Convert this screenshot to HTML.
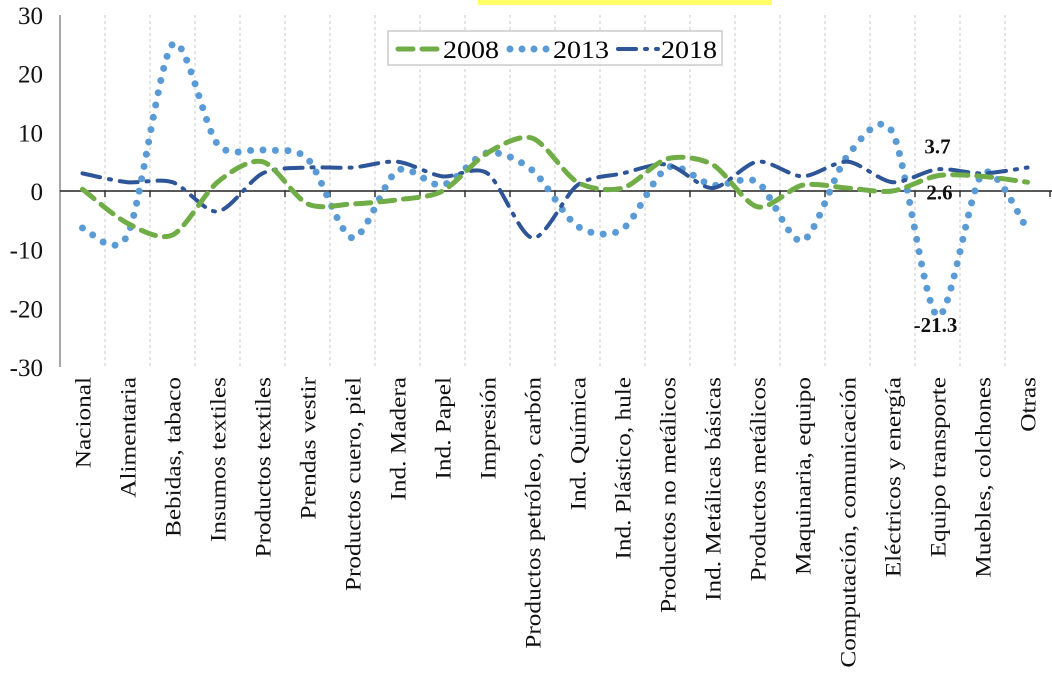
<!DOCTYPE html>
<html><head><meta charset="utf-8"><style>
body{margin:0;background:#fff;}
svg{display:block;font-family:"Liberation Serif",serif;}
</style></head><body>
<svg id="chart" width="1052" height="677" viewBox="0 0 1052 677" xmlns="http://www.w3.org/2000/svg">
<rect x="478" y="0" width="294" height="5" fill="#ffff66"/>
<g id="grid"></g><g id="axes"></g><g id="series"></g><g id="labels"></g>
<g>
<rect x="388" y="31" width="334" height="34" fill="#fff" stroke="#ccc" stroke-width="1.5"/>
<line x1="398" y1="49" x2="440" y2="49" stroke="#70ad47" stroke-width="5" stroke-dasharray="15 9" stroke-linecap="round"/>
<text x="443" y="58" font-size="25" textLength="56" lengthAdjust="spacingAndGlyphs">2008</text>
<line x1="510" y1="49" x2="550" y2="49" stroke="#5b9bd5" stroke-width="7" stroke-dasharray="0 12" stroke-linecap="round"/>
<text x="553" y="58" font-size="25" textLength="56" lengthAdjust="spacingAndGlyphs">2013</text>
<line x1="618" y1="49" x2="658" y2="49" stroke="#2d5597" stroke-width="4" stroke-dasharray="18 9 2 9" stroke-linecap="round"/>
<text x="661" y="58" font-size="25" textLength="56" lengthAdjust="spacingAndGlyphs">2018</text>
</g>
</svg>
<script>
const categories=["Nacional","Alimentaria","Bebidas, tabaco","Insumos textiles","Productos textiles","Prendas vestir","Productos cuero, piel","Ind. Madera","Ind. Papel","Impresión","Productos petróleo, carbón","Ind. Química","Ind. Plástico, hule","Productos no metálicos","Ind. Metálicas básicas","Productos metálicos","Maquinaria, equipo","Computación, comunicación","Eléctricos y energía","Equipo transporte","Muebles, colchones","Otras"];
const s2008=[0.3,-5.5,-7.5,1.5,5,-2.2,-2.2,-1.5,0,6.5,9,1.5,0.5,5.5,4.5,-2.7,1,0.5,0,2.6,2.5,1.5];
const s2013=[-6.3,-7.5,25,8,7,5.5,-8,3.5,1,6.5,3.5,-6,-6.5,4,1,1.5,-8.5,6,10,-21.3,3,-6.5];
const s2018=[3,1.5,1.5,-3.5,3,4,4,5,2.5,3,-8,1,3,4.5,0.5,5,2.5,5,1.5,3.7,3,4];
const yTicks=[30,20,10,0,-10,-20,-30];
const pointLabels=[{s:"2018",i:19,t:"3.7",dx:0,dy:-16},{s:"2008",i:19,t:"2.6",dx:2,dy:24},{s:"2013",i:19,t:"-21.3",dx:-2,dy:16}];
const NS="http://www.w3.org/2000/svg";
const x0=60,step=45,yTop=15,yBot=367;
const xs=i=>x0+step*(i+0.5);
const ys=v=>yTop+(30-v)/60*(yBot-yTop);
function mk(tag,at,parent){const e=document.createElementNS(NS,tag);for(const k in at)e.setAttribute(k,at[k]);parent.appendChild(e);return e;}
const grid=document.getElementById('grid'),axes=document.getElementById('axes'),ser=document.getElementById('series'),lab=document.getElementById('labels');
for(let k=1;k<=categories.length;k++){
 if(k<categories.length){const g=mk('line',{x1:x0+step*k,x2:x0+step*k,y1:yTop,y2:yBot,stroke:'#c8c8c8','stroke-width':1,'stroke-dasharray':'3 3'},grid);
 
 }
 const t=mk('line',{x1:x0+step*k,x2:x0+step*k,y1:ys(0),y2:ys(0)+6,stroke:'#333','stroke-width':1.5},axes);
 
 
}
const ya=mk('line',{x1:x0,x2:x0,y1:yTop,y2:yBot,stroke:'#888','stroke-width':1.5},axes);


const xa=mk('line',{x1:x0,x2:1052,y1:ys(0),y2:ys(0),stroke:'#222','stroke-width':1.5},axes);


yTicks.forEach(v=>{const t=mk('text',{x:43,y:ys(v)+9,'font-size':25,'text-anchor':'end',fill:'#111'},axes);t.textContent=v;
 
 });
categories.forEach((c,i)=>{const t=mk('text',{transform:`translate(${xs(i)+8},377) rotate(-90) scale(1.15,1)`,'font-size':22,'text-anchor':'end',fill:'#111'},axes);t.textContent=c;
 
 });
function path(vals){const p=vals.map((v,i)=>[xs(i),ys(v)]);let d=`M${p[0][0]},${p[0][1]}`;
 for(let i=0;i<p.length-1;i++){const a=p[i-1]||p[i],b=p[i],c=p[i+1],e=p[i+2]||c;const t=7;
 d+=` C${b[0]+(c[0]-a[0])/t},${b[1]+(c[1]-a[1])/t} ${c[0]-(e[0]-b[0])/t},${c[1]-(e[1]-b[1])/t} ${c[0]},${c[1]}`;}return d;}
const defs={"2008":{v:s2008,st:{stroke:'#70ad47','stroke-width':5,'stroke-dasharray':'15 9'}},
"2013":{v:s2013,st:{stroke:'#5b9bd5','stroke-width':7,'stroke-dasharray':'0 12.5'}},
"2018":{v:s2018,st:{stroke:'#2d5597','stroke-width':4,'stroke-dasharray':'18 9 2 9'}}};
["2013","2018","2008"].forEach(k=>{const o=Object.assign({d:path(defs[k].v),fill:'none','stroke-linecap':'round'},defs[k].st);
 const e=mk('path',o,ser);
 
 });
pointLabels.forEach(l=>{const v=defs[l.s].v[l.i];const t=mk('text',{x:xs(l.i)+l.dx,y:ys(v)+l.dy,'font-size':21,'font-weight':'bold','text-anchor':'middle',fill:'#111'},lab);t.textContent=l.t;
 
 });
</script>
</body></html>
